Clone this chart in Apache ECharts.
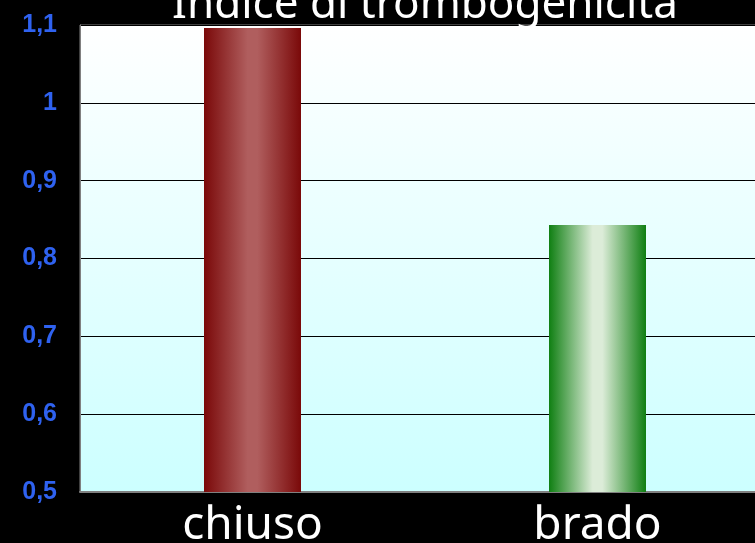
<!DOCTYPE html>
<html>
<head>
<meta charset="utf-8">
<script src="https://cdn.jsdelivr.net/npm/echarts@6/dist/echarts.min.js"></script>
<style>
  html, body { margin: 0; padding: 0; background: #000; overflow: hidden; }
  #main { width: 770px; height: 543px; }
</style>
</head>
<body>
<div id="main"></div>
<script>
var titolo = 'Indice di trombogenicità'
var categorie = ['chiuso', 'brado']
var valori = [1.096, 0.843]
var yMin = 0.5
var yMax = 1.1

// colori delle barre: bordo scuro, centro chiaro
var sfumature = [
  ['#7a0909', '#b05e5e'],
  ['#0f7f12', '#dcecd8']
]

function barGradient(c) {
  return new echarts.graphic.LinearGradient(0, 0, 1, 0, [
    { offset: 0, color: c[0] },
    { offset: 0.45, color: c[1] },
    { offset: 0.55, color: c[1] },
    { offset: 1, color: c[0] }
  ])
}

var myChart = echarts.init(document.getElementById('main'))

myChart.setOption({
  backgroundColor: '#000',
  animation: false,
  title: {
    text: titolo,
    left: 420,
    textAlign: 'center',
    top: -22,
    textStyle: {
      color: '#fff',
      fontFamily: 'Noto Sans',
      fontWeight: 'normal',
      fontSize: 44
    }
  },
  grid: {
    left: 80,
    right: 0,
    top: 25,
    bottom: 51,
    outerBoundsMode: 'none',
    containLabel: false,
    show: true,
    borderColor: '#808080',
    borderWidth: 1,
    backgroundColor: new echarts.graphic.LinearGradient(0, 0, 0, 1, [
      { offset: 0, color: '#ffffff' },
      { offset: 1, color: '#ccffff' }
    ])
  },
  xAxis: {
    type: 'category',
    data: categorie,
    axisTick: { show: false },
    axisLine: { lineStyle: { color: '#808080', width: 2 } },
    axisLabel: {
      color: '#fff',
      fontFamily: 'Noto Sans',
      fontSize: 46,
      margin: 11
    }
  },
  yAxis: {
    type: 'value',
    min: yMin,
    max: yMax,
    interval: 0.1,
    axisLine: { show: true, lineStyle: { color: '#808080', width: 1 } },
    axisTick: { show: false },
    splitLine: { lineStyle: { color: '#000', width: 1 } },
    axisLabel: {
      color: '#2f62f0',
      fontFamily: 'Liberation Sans',
      fontWeight: 'bold',
      fontSize: 25,
      margin: 23,
      formatter: function (v) {
        return String(Math.round(v * 10) / 10).replace('.', ',')
      }
    }
  },
  series: [{
    type: 'bar',
    barWidth: 97,
    data: valori.map(function (v, i) {
      return { value: v, itemStyle: { color: barGradient(sfumature[i]) } }
    })
  }]
})
</script>
</body>
</html>
